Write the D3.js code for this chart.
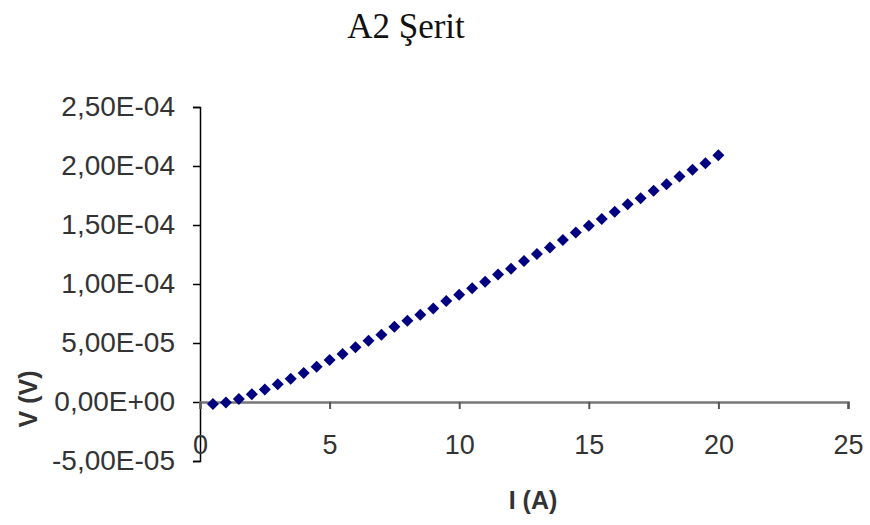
<!DOCTYPE html>
<html>
<head>
<meta charset="utf-8">
<script src="https://cdn.jsdelivr.net/npm/d3@7"></script>
<style>
  body { margin: 0; background: #fff; }
</style>
</head>
<body>
<div id="chart"></div>
<script>
// akım (A) ve gerilim (V) değerleri
const current = [0.5, 1, 1.5, 2, 2.5, 3, 3.5, 4, 4.5, 5, 5.5, 6, 6.5, 7, 7.5, 8, 8.5, 9, 9.5, 10,
  10.5, 11, 11.5, 12, 12.5, 13, 13.5, 14, 14.5, 15, 15.5, 16, 16.5, 17, 17.5, 18, 18.5, 19, 19.5, 20];
const voltage = [-0.17e-5, -0.05e-5, 0.25e-5, 0.66e-5, 1.05e-5, 1.50e-5, 1.96e-5, 2.45e-5, 2.98e-5, 3.55e-5,
  4.07e-5, 4.65e-5, 5.19e-5, 5.70e-5, 6.38e-5, 6.89e-5, 7.40e-5, 7.92e-5, 8.55e-5, 9.09e-5,
  9.63e-5, 10.19e-5, 10.80e-5, 11.30e-5, 11.95e-5, 12.54e-5, 13.10e-5, 13.72e-5, 14.37e-5, 14.93e-5,
  15.50e-5, 16.12e-5, 16.75e-5, 17.27e-5, 17.90e-5, 18.46e-5, 19.10e-5, 19.68e-5, 20.24e-5, 20.92e-5];
const xTicks = [0, 5, 10, 15, 20, 25];
const yTicks = [-5e-5, 0, 5e-5, 1e-4, 1.5e-4, 2e-4, 2.5e-4];

const title = "A2 Şerit";
const xLabel = "I (A)";
const yLabel = "V (V)";

const width = 870, height = 525;
const sans = "'Liberation Sans', Arial, sans-serif";

const svg = d3.select("#chart")
    .append("svg")
    .attr("width", width)
    .attr("height", height);

const x = d3.scaleLinear().domain([0, 25]).range([200, 848]);
const y = d3.scaleLinear().domain([-5e-5, 2.5e-4]).range([461, 107]);

// Excel tarzı bilimsel gösterim: 2,50E-04
function sci(v) {
    if (v === 0) return "0,00E+00";
    let [m, e] = v.toExponential(2).split("e");
    const sign = e[0] === "-" ? "-" : "+";
    e = e.replace(/[+-]/, "").padStart(2, "0");
    return m.replace(".", ",") + "E" + sign + e;
}

// y ekseni
const yAxis = svg.append("g")
    .attr("transform", `translate(${x(0)},0)`)
    .call(d3.axisLeft(y).tickValues(yTicks).tickFormat(sci).tickSize(7).tickPadding(18));
yAxis.select(".domain").attr("stroke", "#000").attr("stroke-width", 1.5);
yAxis.selectAll(".tick line").attr("stroke", "#000").attr("stroke-width", 1.5);
yAxis.selectAll("text")
    .style("font-family", sans)
    .style("font-size", "28px")
    .attr("fill", "#333");

// x ekseni (sıfır çizgisi)
const xAxis = svg.append("g")
    .attr("transform", `translate(0,${y(0)})`)
    .call(d3.axisBottom(x).tickValues(xTicks).tickSize(7).tickPadding(26).tickSizeOuter(7));
xAxis.select(".domain").attr("stroke", "#777").attr("stroke-width", 2.5);
xAxis.selectAll(".tick line").attr("stroke", "#555").attr("stroke-width", 2);
xAxis.selectAll("text")
    .style("font-family", sans)
    .style("font-size", "27px")
    .attr("fill", "#333");

// noktalar
const points = current.map((c, i) => ({ i: c, v: voltage[i] }));
svg.append("g")
    .selectAll("path")
    .data(points)
    .enter()
    .append("path")
    .attr("d", d3.symbol(d3.symbolSquare, 72))
    .attr("transform", d => `translate(${x(d.i)},${y(d.v)}) rotate(45)`)
    .attr("fill", "#000080");

// başlık
svg.append("text")
    .attr("x", 406)
    .attr("y", 38)
    .attr("text-anchor", "middle")
    .style("font-family", "'Liberation Serif', 'Times New Roman', serif")
    .style("font-size", "35px")
    .attr("fill", "#111")
    .text(title);

svg.append("text")
    .attr("x", 533)
    .attr("y", 509)
    .attr("text-anchor", "middle")
    .style("font-family", sans)
    .style("font-size", "25px")
    .style("font-weight", "bold")
    .attr("fill", "#333")
    .text(xLabel);

svg.append("text")
    .attr("transform", "translate(37,399) rotate(-90)")
    .attr("text-anchor", "middle")
    .style("font-family", sans)
    .style("font-size", "25px")
    .style("font-weight", "bold")
    .attr("fill", "#333")
    .text(yLabel);
</script>
</body>
</html>
